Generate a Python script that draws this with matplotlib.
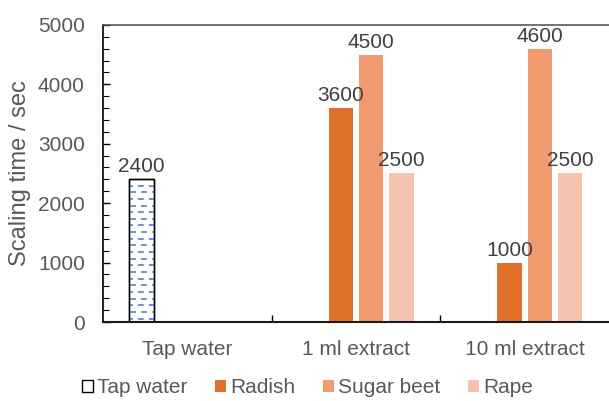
import matplotlib.pyplot as plt
from matplotlib.patches import Patch
from matplotlib.ticker import MultipleLocator, FixedLocator

plt.rcParams["font.family"] = ["Liberation Sans", "DejaVu Sans"]

groups = ["Tap water", "1 ml extract", "10 ml extract"]
series = ["Tap water", "Radish", "Sugar beet", "Rape"]
tap_water = [2400, 0, 0]
radish = [0, 3600, 1000]
sugar_beet = [0, 4500, 4600]
rape = [0, 2500, 2500]

colors = ["white", "#E0712A", "#F29B70", "#F6C3AE"]
text_color = "#595959"
fs = 15

fig = plt.figure(figsize=(6.09, 4.01), dpi=100)
ax = fig.add_axes([0.169, 0.197, 0.831, 0.741])

slot = 0.18
width = 0.145
x = range(len(groups))
values = [tap_water, radish, sugar_beet, rape]

for i, (name, vals, col) in enumerate(zip(series, values, colors)):
    pos = [g + (i - 1.5) * slot for g in x]
    for p, v in zip(pos, vals):
        if v == 0:
            continue
        if i == 0:
            bar = ax.bar(p, v, width, color="white", edgecolor="black",
                         linewidth=1.0, zorder=2)[0]
            # dashed fill pattern, clipped to the bar
            step = 112
            y = step / 2
            row = 0
            while y < v:
                offset = 1 if row % 2 == 0 else 5
                ln, = ax.plot([p - width / 2, p + width / 2], [y, y],
                              color="#6F8FD2", lw=1.4,
                              linestyle=(offset, (3, 2.6)), zorder=2)
                ln.set_clip_path(bar)
                y += step
                row += 1
            ax.bar(p, v, width, color="none", edgecolor="black",
                   linewidth=1.0, zorder=3)
        else:
            ax.bar(p, v, width, color=col, zorder=2)
        ax.text(p, v + 50, f"{v}", ha="center", va="bottom",
                fontsize=fs, color="#404040")

ax.set_xlim(-0.5, 2.5)
ax.set_ylim(0, 5000)

ax.set_xticks(list(x))
ax.set_xticklabels(groups)
ax.tick_params(axis="x", which="major", length=0, pad=13,
               labelsize=fs, labelcolor=text_color)
ax.xaxis.set_minor_locator(FixedLocator([0.5, 1.5]))
ax.tick_params(axis="x", which="minor", direction="in", length=5,
               width=1.0, color="black")

ax.yaxis.set_major_locator(MultipleLocator(1000))
ax.yaxis.set_minor_locator(MultipleLocator(200))
ax.tick_params(axis="y", which="major", direction="in", length=5,
               width=1.0, pad=13, labelsize=fs, labelcolor=text_color)
ax.tick_params(axis="y", which="minor", direction="in", length=4,
               width=0.8)
ax.set_ylabel("Scaling time / sec", fontsize=17, color=text_color,
              labelpad=5)

ax.spines["right"].set_visible(False)
ax.spines["top"].set_color("#595959")
ax.spines["top"].set_linewidth(1.2)
ax.spines["left"].set_linewidth(1.2)
ax.spines["bottom"].set_linewidth(1.5)
ax.spines["bottom"].set_color("#1a1a1a")

handles = [Patch(facecolor=c, edgecolor="black" if c == "white" else c,
                 linewidth=1.0 if c == "white" else 0)
           for c in colors]
fig.legend(handles, series, loc="center", bbox_to_anchor=(0.505, 0.033),
           ncol=4, frameon=False, fontsize=fs, handlelength=0.55,
           handleheight=0.55, handletextpad=0.2, columnspacing=1.3,
           labelcolor=text_color, borderpad=0.1)

fig.savefig("out.png", dpi=100)
